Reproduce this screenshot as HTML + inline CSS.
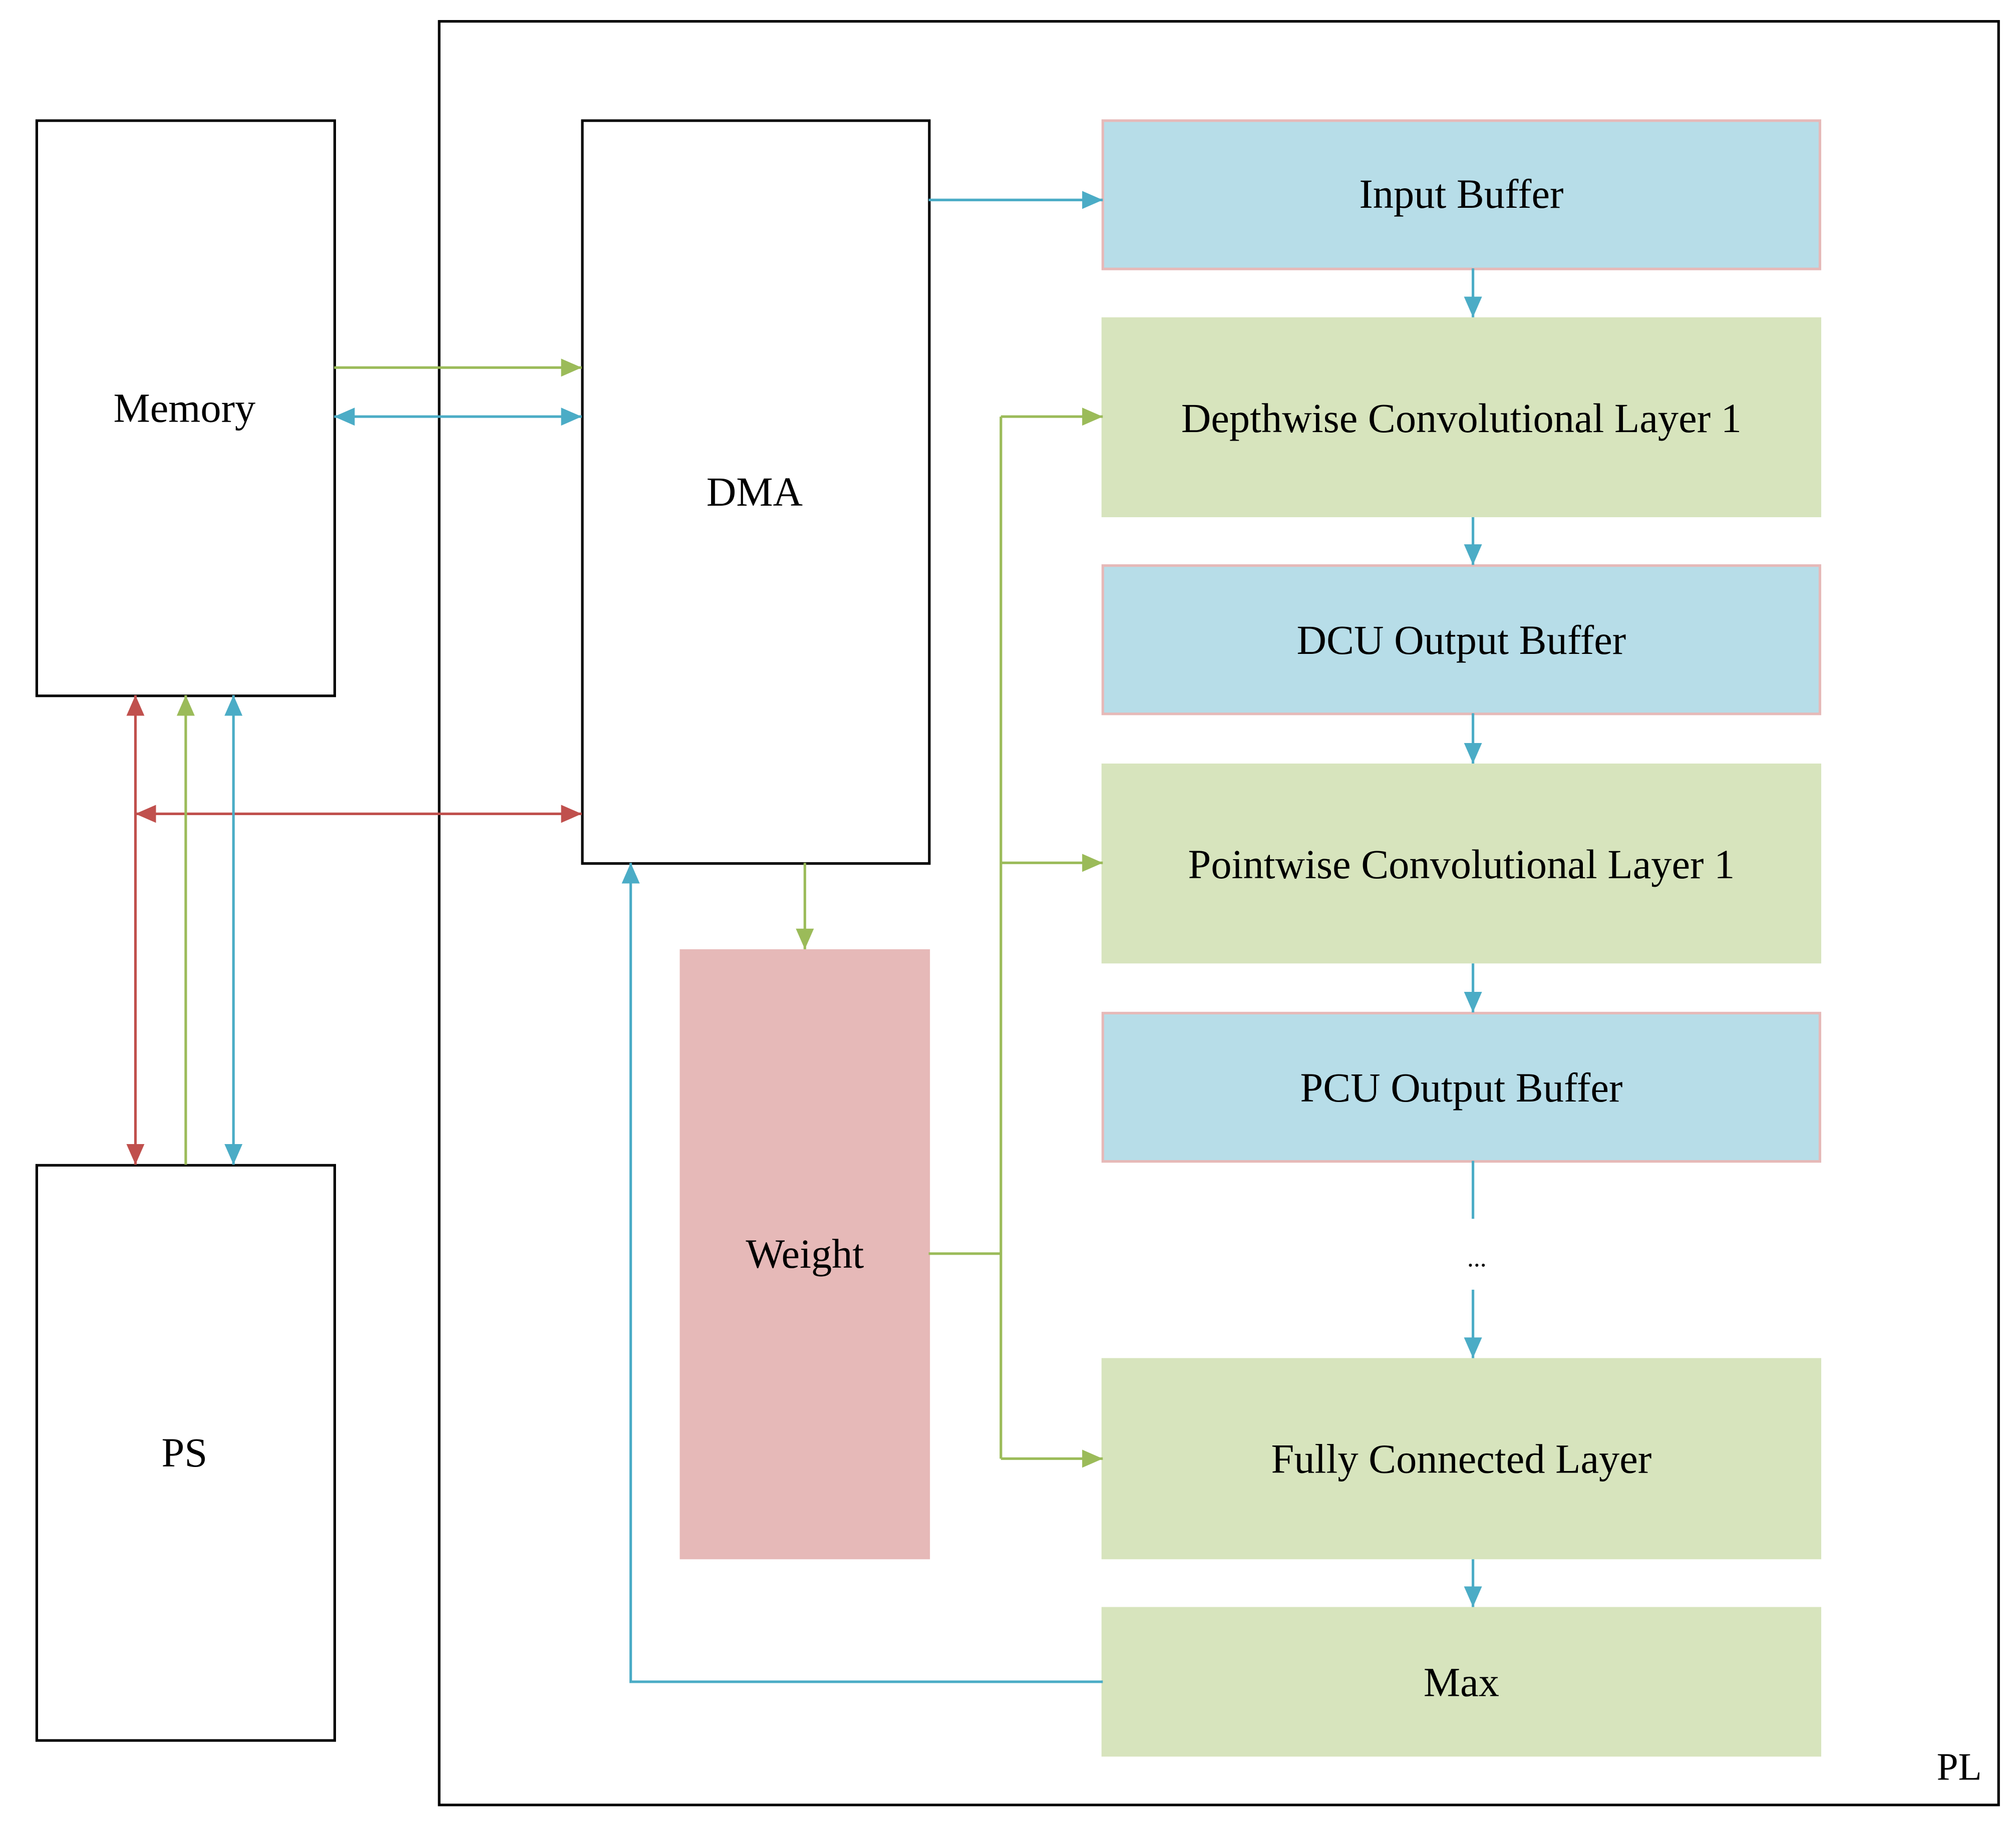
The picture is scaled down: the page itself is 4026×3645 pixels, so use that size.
<!DOCTYPE html>
<html><head><meta charset="utf-8"><style>html,body{margin:0;padding:0;background:#fff}svg{display:block}</style></head>
<body>
<svg xmlns="http://www.w3.org/2000/svg" width="4026" height="3645" viewBox="0 0 1563 1415">
<defs>
<marker id="b" markerWidth="16" markerHeight="14" refX="16" refY="7" orient="auto-start-reverse" markerUnits="userSpaceOnUse" viewBox="0 0 16 14"><path d="M0,0 L16,7 L0,14 z" fill="#4BACC6"/></marker>
<marker id="g" markerWidth="16" markerHeight="14" refX="16" refY="7" orient="auto-start-reverse" markerUnits="userSpaceOnUse" viewBox="0 0 16 14"><path d="M0,0 L16,7 L0,14 z" fill="#9BBB59"/></marker>
<marker id="r" markerWidth="16" markerHeight="14" refX="16" refY="7" orient="auto-start-reverse" markerUnits="userSpaceOnUse" viewBox="0 0 16 14"><path d="M0,0 L16,7 L0,14 z" fill="#C0504D"/></marker>
</defs>
<g fill="none" stroke="#000" stroke-width="2">
<rect x="340.5" y="16.5" width="1209" height="1383" fill="#fff"/>
<rect x="28.5" y="93.5" width="231" height="446" fill="#fff"/>
<rect x="28.5" y="903.5" width="231" height="446" fill="#fff"/>
<rect x="451.5" y="93.5" width="269" height="576" fill="#fff"/>
</g>
<rect x="527" y="736" width="194" height="473" fill="#E6B9B8"/>
<g stroke="#E6B9B8" stroke-width="2" fill="#B7DDE8">
<rect x="855" y="93.5" width="556" height="115"/>
<rect x="855" y="438.5" width="556" height="115"/>
<rect x="855" y="785.5" width="556" height="115"/>
</g>
<g fill="#D7E4BD">
<rect x="854" y="246" width="558" height="155"/>
<rect x="854" y="592" width="558" height="155"/>
<rect x="854" y="1053" width="558" height="156"/>
<rect x="854" y="1246" width="558" height="116"/>
</g>
<g stroke-width="2" fill="none">
<path d="M720,155 H855" stroke="#4BACC6" marker-end="url(#b)"/>
<path d="M259,285 H451" stroke="#9BBB59" marker-end="url(#g)"/>
<path d="M259,323 H451" stroke="#4BACC6" marker-start="url(#b)" marker-end="url(#b)"/>
<path d="M105,631 H451" stroke="#C0504D" marker-start="url(#r)" marker-end="url(#r)"/>
<path d="M105,539 V903" stroke="#C0504D" marker-start="url(#r)" marker-end="url(#r)"/>
<path d="M144,903 V539" stroke="#9BBB59" marker-end="url(#g)"/>
<path d="M181,539 V903" stroke="#4BACC6" marker-start="url(#b)" marker-end="url(#b)"/>
<path d="M624,669 V736" stroke="#9BBB59" marker-end="url(#g)"/>
<path d="M720,972 H776" stroke="#9BBB59"/>
<path d="M776,323 V1131" stroke="#9BBB59"/>
<path d="M776,323 H855" stroke="#9BBB59" marker-end="url(#g)"/>
<path d="M776,669 H855" stroke="#9BBB59" marker-end="url(#g)"/>
<path d="M776,1131 H855" stroke="#9BBB59" marker-end="url(#g)"/>
<path d="M1142,208 V246" stroke="#4BACC6" marker-end="url(#b)"/>
<path d="M1142,401 V438" stroke="#4BACC6" marker-end="url(#b)"/>
<path d="M1142,553 V592" stroke="#4BACC6" marker-end="url(#b)"/>
<path d="M1142,747 V785" stroke="#4BACC6" marker-end="url(#b)"/>
<path d="M1142,900 V945" stroke="#4BACC6"/>
<path d="M1142,1000 V1053" stroke="#4BACC6" marker-end="url(#b)"/>
<path d="M1142,1209 V1246" stroke="#4BACC6" marker-end="url(#b)"/>
<path d="M855,1304 H489 V669" stroke="#4BACC6" marker-end="url(#b)"/>
</g>
<g font-family="Liberation Serif, serif" font-size="32" text-anchor="middle" fill="#000">
<text x="143" y="327">Memory</text>
<text x="143" y="1137">PS</text>
<text x="585" y="392">DMA</text>
<text x="624" y="983">Weight</text>
<text x="1133" y="161">Input Buffer</text>
<text x="1133" y="335">Depthwise Convolutional Layer 1</text>
<text x="1133" y="507">DCU Output Buffer</text>
<text x="1133" y="681">Pointwise Convolutional Layer 1</text>
<text x="1133" y="854">PCU Output Buffer</text>
<text x="1145" y="982" font-size="20">...</text>
<text x="1133" y="1142">Fully Connected Layer</text>
<text x="1133" y="1315">Max</text>
<text x="1519" y="1380" font-size="30">PL</text>
</g>
</svg>
</body></html>
